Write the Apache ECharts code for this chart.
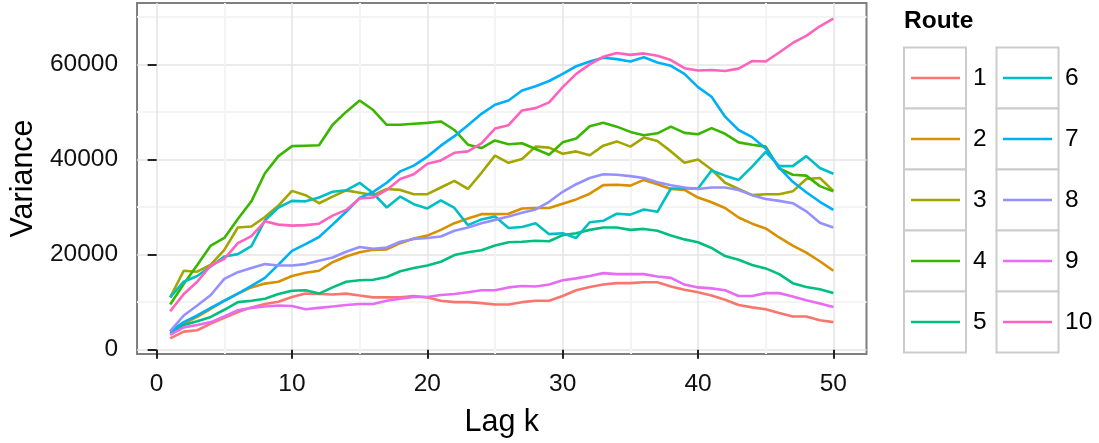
<!DOCTYPE html>
<html>
<head>
<meta charset="utf-8">
<script src="https://cdn.jsdelivr.net/npm/echarts@6/dist/echarts.min.js"></script>
<style>
  html, body { margin: 0; padding: 0; background: #fff; }
  #chart { width: 1099px; height: 443px; }
</style>
</head>
<body>
<div id="chart"></div>
<script>
var lags = [1,2,3,4,5,6,7,8,9,10,11,12,13,14,15,16,17,18,19,20,21,22,23,24,25,
            26,27,28,29,30,31,32,33,34,35,36,37,38,39,40,41,42,43,44,45,46,47,48,49,50];
var routes = ['1','2','3','4','5','6','7','8','9','10'];
var routeColors = ['#F8766D','#D89000','#A3A500','#39B600','#00BF7D',
                   '#00BFC4','#00B0F6','#9590FF','#E76BF3','#FF62BC'];
var xTicks = [0, 10, 20, 30, 40, 50];
var xMinor = [5, 15, 25, 35, 45];
var yTicks = [0, 20000, 40000, 60000];
var yMinor = [10000, 30000, 50000, 70000];

var route1 = [2400,3800,4100,5500,6700,7900,8900,9600,10100,11100,
              11800,11700,11600,11800,11400,11000,11000,11000,11300,11000,
              10300,10000,10000,9800,9500,9500,10000,10300,10300,11300,
              12500,13200,13700,14000,14000,14200,14200,13300,12600,12100,
              11400,10500,9400,8900,8500,7700,7000,7000,6200,5800];
var route2 = [3800,5500,6900,8600,10300,11800,13100,13900,14300,15500,
              16200,16600,18400,19600,20500,21000,21100,22400,23400,24000,
              25200,26600,27600,28500,28500,28600,29700,29800,29800,30700,
              31600,32800,34600,34700,34500,35700,34800,33800,33600,32000,
              31000,29800,27800,26500,25500,23600,21900,20400,18600,16600];
var route3 = [11000,16600,16400,17900,21000,25700,25900,27900,30300,33400,
              32500,30800,32200,33500,33000,32500,33800,33600,32700,32700,
              34100,35500,33800,37200,40800,39300,40100,42700,42500,41200,
              41700,40900,42900,43800,42700,44600,43900,41700,39300,40000,
              37900,35100,33800,32500,32700,32700,33300,35900,36100,33400];
var route4 = [9500,13800,17800,21900,23500,27500,31200,37100,40700,42800,
              42900,43000,47300,50000,52400,50400,47300,47300,47500,47700,
              48000,46200,43100,42400,44000,43200,43400,42200,41000,43600,
              44400,47000,47700,46900,45800,45100,45500,46900,45600,45300,
              46600,45400,43600,43100,42700,38100,36800,36600,34400,33300];
var route5 = [3400,5200,6000,6900,8400,10000,10300,10700,11700,12400,
              12500,11800,13100,14300,14600,14700,15300,16500,17200,17700,
              18500,19900,20500,20900,21900,22600,22700,22900,22800,24100,
              24500,25200,25700,25700,25200,25400,25000,24000,23200,22600,
              21400,19700,18900,17800,17100,15900,14000,13200,12700,11900];
var route6 = [11000,14300,15500,17500,19600,20100,21800,27200,29900,31300,
              31200,32000,33200,33500,35100,32900,29900,32200,30600,29700,
              31400,29800,26200,27400,28000,25600,25800,26600,24300,24500,
              23500,26800,27100,28600,28400,29500,29000,33900,33900,33900,
              37700,36600,35700,38500,41600,38600,38600,40700,38200,37000];
var route7 = [3800,5800,7200,8800,10300,11800,13400,15100,17900,20800,
              22200,23700,26300,29000,31900,33200,35100,37500,38700,40600,
              42900,44900,47200,49600,51500,52400,54500,55400,56500,58000,
              59600,60600,61400,61100,60600,61500,60400,59700,58000,55200,
              53200,49000,46200,44700,42300,38300,35300,33100,31100,29400];
var route8 = [3900,7200,9300,11500,14900,16300,17200,18000,17700,17700,
              18000,18700,19400,20600,21600,21200,21500,22700,23300,23500,
              23800,25000,25700,26600,27300,28000,28800,29500,31100,33200,
              34800,36100,36900,36800,36500,36100,35200,34600,34100,33800,
              34100,34100,33600,32500,31700,31300,30800,29100,26700,25700];
var route9 = [3100,4700,5200,5800,7000,8300,8800,9100,9300,9200,
              8500,8800,9100,9400,9600,9600,10300,10700,11100,11100,
              11500,11700,12100,12500,12500,13100,13400,13300,13700,14600,
              15000,15500,16100,15900,15900,15900,15400,15100,13700,13100,
              12900,12500,11300,11300,11900,11900,11200,10400,9700,9000];
var route10 = [8100,11700,14300,17700,19100,22400,23900,27000,26300,26100,
               26200,26500,28200,29400,31800,32000,33600,35900,36900,39100,
               39800,41400,41700,43400,46500,47200,50300,50800,52000,55200,
               58000,60000,61600,62400,62000,62300,61800,60900,59200,58700,
               58800,58600,59100,60700,60600,62500,64500,66000,68000,69600];
var routeValues = [route1, route2, route3, route4, route5,
                   route6, route7, route8, route9, route10];

var FONT = '"Liberation Sans", Arial, Helvetica, sans-serif';
var LINE_W = 2.6;

function pairs(vals) {
    return lags.map(function (k, i) { return [k, vals[i]]; });
}

// grey key boxes behind the legend entries (ggplot style)
function legendBoxes() {
    var out = [];
    var cols = [{x: 904, w: 62}, {x: 996.5, w: 62}];
    cols.forEach(function (c) {
        for (var r = 0; r < 5; r++) {
            out.push({
                type: 'rect', z: 1,
                shape: {x: c.x, y: 47.5 + r * 61, width: c.w, height: 61},
                style: {fill: '#fff', stroke: '#CCCCCC', lineWidth: 2}
            });
        }
    });
    return out;
}

function legendCol(names, left) {
    return {
        orient: 'vertical',
        left: left,
        top: 47.5,
        padding: 0,
        itemGap: 0,
        icon: 'rect',
        itemWidth: 49,
        itemHeight: LINE_W,
        selectedMode: false,
        data: names,
        textStyle: {
            fontFamily: FONT, fontSize: 24.5, color: '#000',
            lineHeight: 61, padding: [0, 0, 0, 8]
        }
    };
}

function plain(v) { return String(v); }

var chart = echarts.init(document.getElementById('chart'));
chart.setOption({
    animation: false,
    backgroundColor: '#fff',
    title: {
        text: 'Route',
        left: 904, top: 9, padding: 0,
        textStyle: {fontFamily: FONT, fontSize: 24.5, fontWeight: 'bold', color: '#000'}
    },
    grid: {
        left: 135, top: 3, width: 731.5, height: 358.5,
        show: true, borderColor: '#7F7F7F', borderWidth: 2, backgroundColor: '#fff'
    },
    legend: [legendCol(routes.slice(0, 5), 911), legendCol(routes.slice(5), 1003)],
    graphic: legendBoxes(),
    xAxis: [{
        type: 'value', min: -1.45, max: 52.45,
        name: 'Lag k', nameLocation: 'middle', nameGap: 53,
        nameTextStyle: {fontFamily: FONT, fontSize: 30.5, color: '#000'},
        axisLine: {show: false},
        axisTick: {show: true, length: 9, customValues: xTicks, lineStyle: {color: '#222', width: 2}},
        axisLabel: {customValues: xTicks, formatter: plain, margin: 18,
                    fontFamily: FONT, fontSize: 24.5, color: '#111'},
        splitLine: {show: true, lineStyle: {color: '#E5E5E5', width: 1.5}}
    }, {
        type: 'value', min: -1.45, max: 52.45, gridIndex: 0,
        axisLine: {show: false},
        axisTick: {show: false, customValues: xMinor},
        axisLabel: {show: false, customValues: xMinor},
        splitLine: {show: true, lineStyle: {color: '#F4F4F4', width: 2}}
    }],
    yAxis: [{
        type: 'value', min: -900, max: 72900,
        name: 'Variance', nameLocation: 'middle', nameGap: 97,
        nameTextStyle: {fontFamily: FONT, fontSize: 30.5, color: '#000'},
        axisLine: {show: false},
        axisTick: {show: true, length: 9, customValues: yTicks, lineStyle: {color: '#222', width: 2}},
        axisLabel: {customValues: yTicks, formatter: plain, margin: 19,
                    fontFamily: FONT, fontSize: 24.5, color: '#111'},
        splitLine: {show: true, lineStyle: {color: '#E5E5E5', width: 1.5}}
    }, {
        type: 'value', min: -900, max: 72900, gridIndex: 0,
        axisLine: {show: false},
        axisTick: {show: false, customValues: yMinor},
        axisLabel: {show: false, customValues: yMinor},
        splitLine: {show: true, lineStyle: {color: '#F4F4F4', width: 2}}
    }],
    series: routes.map(function (name, i) {
        return {
            name: name,
            type: 'line',
            xAxisIndex: 0,
            yAxisIndex: 0,
            symbol: 'none',
            color: routeColors[i],
            lineStyle: {width: LINE_W, color: routeColors[i]},
            data: pairs(routeValues[i])
        };
    })
});
</script>
</body>
</html>
